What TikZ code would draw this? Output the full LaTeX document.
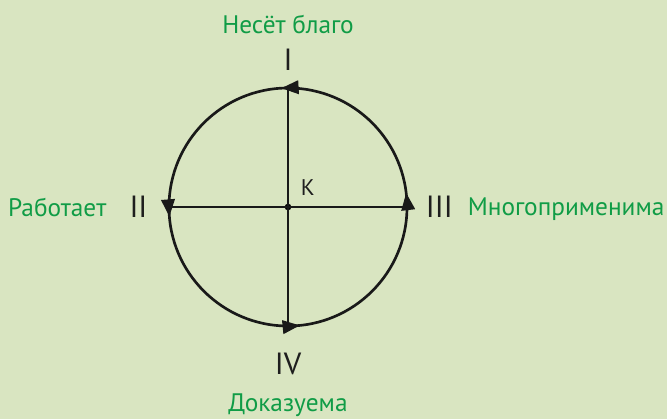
\documentclass[tikz,border=0pt]{standalone}
\usepackage{fontspec}
\setmainfont{PT Sans}
\usetikzlibrary{arrows.meta, positioning, decorations.markings}
\definecolor{bgsage}{RGB}{217,229,193}
\definecolor{labelgreen}{RGB}{16,156,70}
\definecolor{inkgrey}{RGB}{30,30,30}
\tikzset{
    flow/.tip={Triangle[length=13pt, width=10pt]},
    ring/.style={draw=black!90, line width=2pt, postaction={decorate},
        decoration={markings,
            mark=at position 0.019 with {\arrow{flow}},
            mark=at position 0.259 with {\arrow{flow}},
            mark=at position 0.513 with {\arrow{flow}},
            mark=at position 0.766 with {\arrow{flow}}}},
    axis/.style={draw=black!90, line width=0.8pt},
    centre/.style={circle, fill=black, inner sep=0pt, minimum size=5pt},
    numeral/.style={inner sep=0pt, text depth=0pt, text=inkgrey, font=\fontsize{23}{27}\selectfont},
    quality/.style={inner sep=0pt, text depth=0pt, text=labelgreen, font=\fontsize{19}{22}\selectfont},
    pole/.style={inner sep=0pt, text depth=0pt, text=inkgrey, font=\fontsize{17}{20}\selectfont},
}

\begin{document}
\begin{tikzpicture}[x=0.75pt, y=0.75pt]
        % Background
        \useasboundingbox (0,0) rectangle (667,419);
        \fill[bgsage] (0,0) rectangle (667,419);

        % Centre and points on the circle
        \node[centre] (K) at (288,212) {};
        \coordinate (ptop) at (288,331);
        \coordinate (pleft) at (169,212);
        \coordinate (pright) at (407,212);
        \coordinate (pbot) at (288,93);

        % Circle and axes
        \draw[axis] (ptop) -- (pbot);
        \draw[axis] (pleft) -- (pright);
        \draw[ring] (K) circle[radius=89.25pt];
        \node[pole, above right=6.75pt and 7.5pt of K] (kname) {К};

        % Numerals
        \node[numeral, above=13pt of ptop] (n1) {I};
        \node[numeral, left=16pt of pleft] (n2) {II};
        \node[numeral, right=14pt of pright] (n3) {III};
        \node[numeral, below=20pt of pbot] (n4) {IV};

        % Labels
        \node[quality, above=11.5pt of n1] (good) {Несёт благо};
        \node[quality, left=17pt of n2] (works) {Работает};
        \node[quality, right=11pt of n3] (multi) {Многоприменима};
        \node[quality, below=14pt of n4] (proof) {Доказуема};
    \end{tikzpicture}
\end{document}
